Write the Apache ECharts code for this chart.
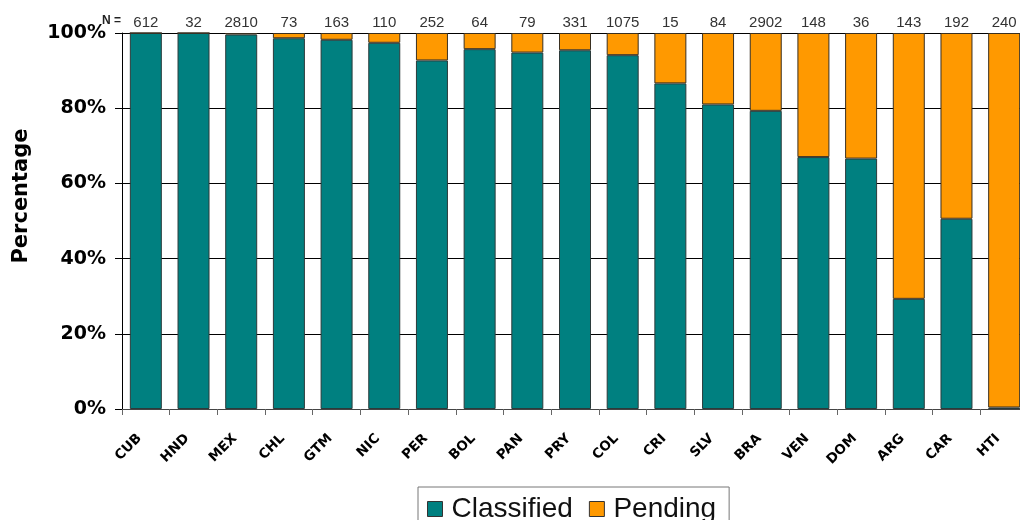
<!DOCTYPE html>
<html>
<head>
<meta charset="utf-8">
<script src="https://cdn.jsdelivr.net/npm/echarts@6/dist/echarts.min.js"></script>
<style>html,body{margin:0;padding:0;background:#fff;overflow:hidden;width:1020px;height:520px;}#c{width:1028px;height:520px;}</style>
</head>
<body>
<div id="c"></div>
<script>
var categories = ['CUB','HND','MEX','CHL','GTM','NIC','PER','BOL','PAN','PRY','COL','CRI','SLV','BRA','VEN','DOM','ARG','CAR','HTI'];
var nCounts = ['612','32','2810','73','163','110','252','64','79','331','1075','15','84','2902','148','36','143','192','240'];
var classified = [100, 100, 99.6, 98.6, 98.2, 97.4, 92.7, 95.7, 94.8, 95.4, 94.1, 86.6, 81.0, 79.3, 67.0, 66.6, 29.3, 50.6, 0.4];
var pending = [0, 0, 0.4, 1.4, 1.8, 2.6, 7.3, 4.3, 5.2, 4.6, 5.9, 13.4, 19.0, 20.7, 33.0, 33.4, 70.7, 49.4, 99.6];
var yTicks = [0, 20, 40, 60, 80, 100];

var chart = echarts.init(document.getElementById('c'));
chart.setOption({
  animation: false,
  grid: {left: 122, right: 0, top: 33, bottom: 111, containLabel: false},
  graphic: [{
    type: 'text', left: 102, top: 15,
    style: {text: 'N =', font: 'bold 12px "Liberation Sans", Arial', fill: '#222'}
  }, {
    type: 'text', x: 22, y: 196, rotation: Math.PI / 2,
    style: {text: 'Percentage', font: 'bold 21px "DejaVu Sans"', fill: '#000', align: 'center', verticalAlign: 'middle'}
  }],
  legend: {
    top: 487, left: 418,
    data: ['Classified', 'Pending'],
    icon: 'rect', itemWidth: 15, itemHeight: 15, itemGap: 16,
    itemStyle: {borderColor: '#333', borderWidth: 1},
    borderColor: '#777', borderWidth: 1, padding: [8, 13, 8, 9],
    textStyle: {fontSize: 28, fontFamily: '"Liberation Sans", Arial', color: '#111', padding: [0, 0, 0, 4]}
  },
  xAxis: [{
    type: 'category', data: categories, position: 'bottom',
    axisLine: {lineStyle: {color: '#444', width: 1}},
    axisTick: {show: true, length: 6, lineStyle: {color: '#666'}},
    axisLabel: {rotate: 45, margin: 21, padding: [0, 9, 0, 0], fontSize: 13.5, fontWeight: 'bold', fontFamily: '"DejaVu Sans"', color: '#000'}
  }, {
    type: 'category', data: nCounts, position: 'top',
    axisLine: {show: false}, axisTick: {show: false},
    axisLabel: {margin: 3, fontSize: 15, fontFamily: '"Liberation Sans", Arial', color: '#333'}
  }],
  yAxis: {
    type: 'value', min: 0, max: 100, interval: 20,
    axisLine: {show: true, lineStyle: {color: '#000'}},
    axisTick: {show: true, length: 7, lineStyle: {color: '#000'}},
    splitLine: {show: true, lineStyle: {color: '#000', width: 1}},
    axisLabel: {
      fontSize: 19, fontWeight: 'bold', fontFamily: '"DejaVu Sans"', color: '#000', margin: 16,
      formatter: function (v) { return yTicks.indexOf(v) >= 0 ? v + '%' : ''; }
    }
  },
  series: [{
    name: 'Classified', type: 'bar', stack: 'a', data: classified, barWidth: 32,
    itemStyle: {color: '#008080', borderColor: '#2b3b3b', borderWidth: 1}
  }, {
    name: 'Pending', type: 'bar', stack: 'a', data: pending, barWidth: 32,
    itemStyle: {color: '#FF9900', borderColor: '#3a3020', borderWidth: 1}
  }]
});
</script>
</body>
</html>
